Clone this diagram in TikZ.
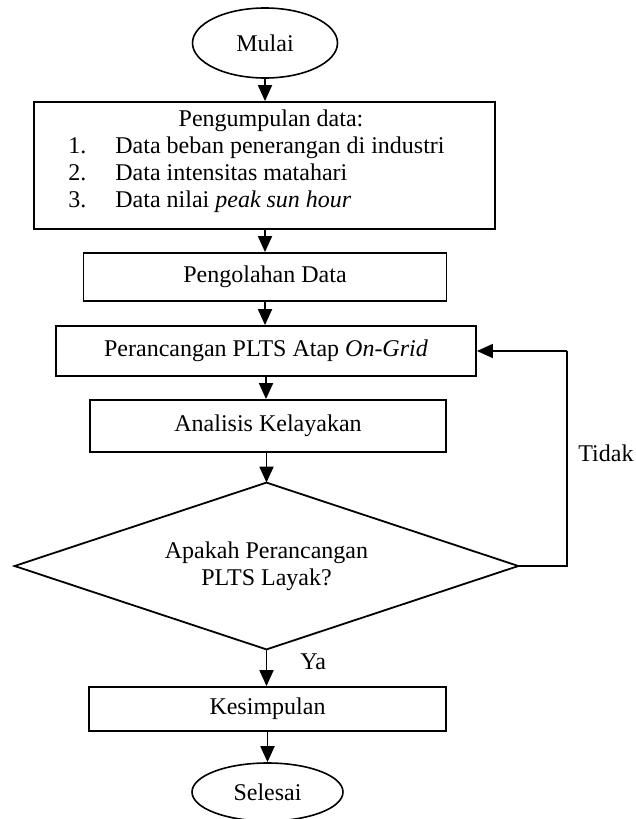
\documentclass[tikz,border=0pt]{standalone}
\usepackage{fontspec}
\setmainfont{Liberation Serif}
\usetikzlibrary{arrows.meta,shapes.geometric}
\begin{document}
\begin{tikzpicture}[x=0.5pt,y=-0.5pt,
  font=\fontsize{12pt}{13.5pt}\selectfont,
  box/.style={draw,line width=0.9pt,rectangle,inner sep=0pt,align=center},
  term/.style={draw,line width=0.8pt,ellipse,inner sep=0pt},
  dec/.style={rectangle,inner sep=0pt,align=center},
  arr/.style={line width=0.9pt,-{Triangle[length=8pt,width=7pt]}},
  lin/.style={line width=0.9pt}]
\useasboundingbox (0,0) rectangle (636,819);
\node[term,minimum width=72.5pt,minimum height=35pt] (mulai) at (265,43) {Mulai};
\node[box,minimum width=230.5pt,minimum height=63.5pt] (b1) at (264.5,165.5) {};
\node[anchor=base,inner sep=0pt] (t0) at (271,126) {Pengumpulan data:};
\node[anchor=base west,inner sep=0pt] (n1) at (68,153.5) {1.};
\node[anchor=base west,inner sep=0pt] (n2) at (68,180.5) {2.};
\node[anchor=base west,inner sep=0pt] (n3) at (68,207.5) {3.};
\node[anchor=base west,inner sep=0pt] (i1) at (115,153.5) {Data beban penerangan di industri};
\node[anchor=base west,inner sep=0pt] (i2) at (115,180.5) {Data intensitas matahari};
\node[anchor=base west,inner sep=0pt] (i3) at (115,207.5) {Data nilai \textit{peak sun hour}};
\node[box,minimum width=181.5pt,minimum height=24pt] (b2) at (265,277) {Pengolahan Data};
\node[box,minimum width=210pt,minimum height=25pt] (b3) at (266,351) {Perancangan PLTS Atap \textit{On-Grid}};
\node[box,minimum width=178pt,minimum height=26pt] (b4) at (268,426) {Analisis Kelayakan};
\node[dec,minimum width=251.5pt,minimum height=83pt] (dia) at (266.5,566) {Apakah Perancangan\\PLTS Layak?};
\draw[lin,line join=miter] (dia.north) -- (dia.east) -- (dia.south) -- (dia.west) -- cycle;
\node[box,minimum width=178.5pt,minimum height=22pt] (b5) at (267.5,709) {Kesimpulan};
\node[term,minimum width=75.5pt,minimum height=29pt] (selesai) at (267.5,792) {Selesai};
\node[anchor=west,inner sep=0pt] (tidak) at (578,453) {Tidak};
\node[anchor=west,inner sep=0pt] (ya) at (300,662) {Ya};
\coordinate (lp) at (567,351);
\draw[arr] (mulai) -- (mulai |- b1.north);
\draw[arr] (b1.south -| b2.north) -- (b2.north);
\draw[arr] (b2) -- (b2 |- b3.north);
\draw[arr] (b3) -- (b3 |- b4.north);
\draw[arr] (b4.south -| dia.north) -- (dia.north);
\draw[arr] (dia.south) -- (dia.south |- b5.north);
\draw[arr] (b5.south -| selesai.north) -- (selesai.north);
\draw[lin] (dia.east) -| (lp);
\draw[arr] (lp) -- (b3.east);
\end{tikzpicture}
\end{document}
